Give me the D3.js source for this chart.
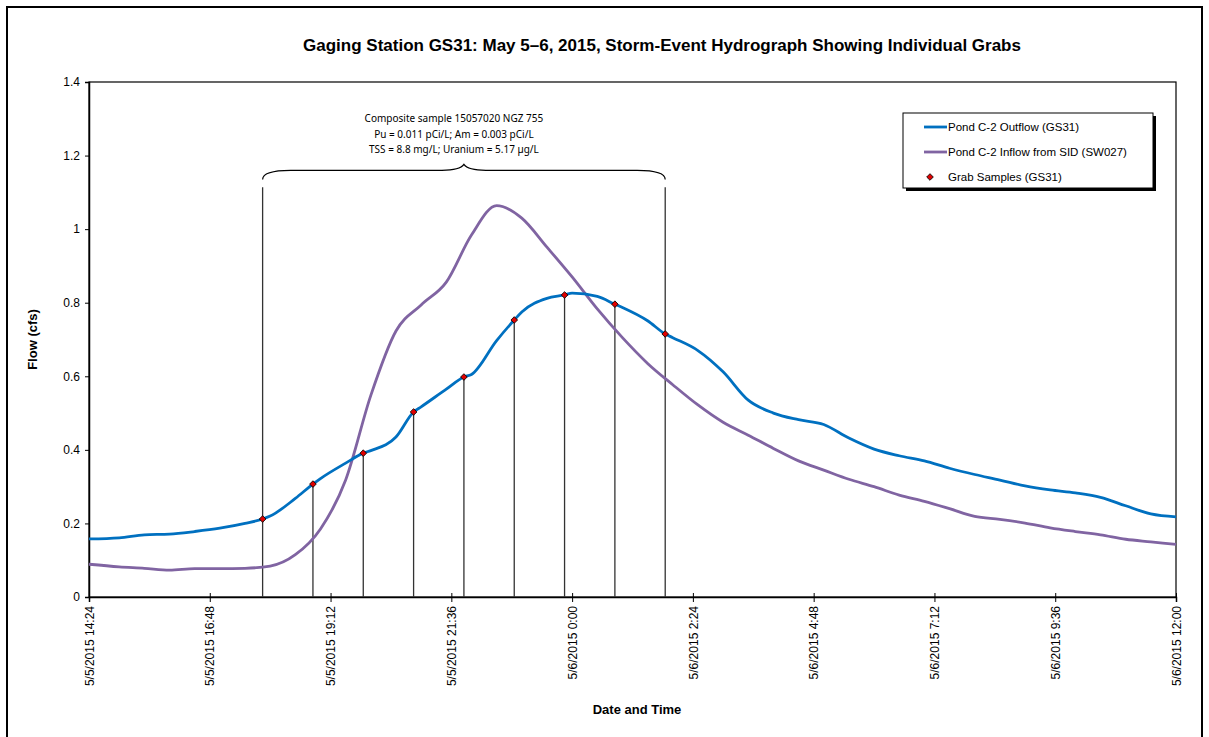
<!DOCTYPE html>
<html>
<head>
<meta charset="utf-8">
<script src="https://cdn.jsdelivr.net/npm/d3@7"></script>
<style>
  body { margin: 0; background: #fff; }
  text { font-family: "Liberation Sans", Arial, sans-serif; }
</style>
</head>
<body>
<script>
// ---- data ----
const times = [
  "5/5/2015 14:24", "5/5/2015 15:00", "5/5/2015 15:30", "5/5/2015 16:00", "5/5/2015 16:30",
  "5/5/2015 17:00", "5/5/2015 17:30", "5/5/2015 18:00", "5/5/2015 18:30", "5/5/2015 19:00",
  "5/5/2015 19:30", "5/5/2015 20:00", "5/5/2015 20:30", "5/5/2015 21:00", "5/5/2015 21:30",
  "5/5/2015 22:00", "5/5/2015 22:30", "5/5/2015 23:00", "5/5/2015 23:30", "5/6/2015 0:00",
  "5/6/2015 0:30", "5/6/2015 1:00", "5/6/2015 1:30", "5/6/2015 2:00", "5/6/2015 2:30",
  "5/6/2015 3:00", "5/6/2015 3:30", "5/6/2015 4:00", "5/6/2015 4:30", "5/6/2015 5:00",
  "5/6/2015 5:30", "5/6/2015 6:00", "5/6/2015 6:30", "5/6/2015 7:00", "5/6/2015 7:30",
  "5/6/2015 8:00", "5/6/2015 8:30", "5/6/2015 9:00", "5/6/2015 9:30", "5/6/2015 10:00",
  "5/6/2015 10:30", "5/6/2015 11:00", "5/6/2015 11:30", "5/6/2015 12:00"
];

// Pond C-2 Outflow (GS31), cfs
const outflow = [
  0.158, 0.161, 0.169, 0.171, 0.178,
  0.187, 0.200, 0.220, 0.268, 0.322,
  0.364, 0.398, 0.435, 0.517, 0.565,
  0.605, 0.697, 0.775, 0.812, 0.826,
  0.817, 0.787, 0.751, 0.705, 0.670,
  0.612, 0.535, 0.500, 0.482, 0.469,
  0.432, 0.402, 0.384, 0.370, 0.350,
  0.333, 0.318, 0.302, 0.291, 0.283,
  0.271, 0.248, 0.226, 0.218
];

// Pond C-2 Inflow from SID (SW027), cfs
const inflow = [
  0.089, 0.082, 0.078, 0.073, 0.077,
  0.077, 0.078, 0.084, 0.115, 0.185,
  0.318, 0.548, 0.723, 0.794, 0.856,
  0.984, 1.064, 1.030, 0.951, 0.870,
  0.783, 0.705, 0.635, 0.577, 0.522,
  0.475, 0.440, 0.404, 0.370, 0.345,
  0.320, 0.300, 0.277, 0.260, 0.240,
  0.219, 0.211, 0.201, 0.188, 0.178,
  0.169, 0.157, 0.150, 0.143
];

// Grab samples (GS31)
const grabTimes = [
  "5/5/2015 17:51", "5/5/2015 18:51", "5/5/2015 19:51", "5/5/2015 20:51", "5/5/2015 21:51",
  "5/5/2015 22:51", "5/5/2015 23:51", "5/6/2015 0:51", "5/6/2015 1:51"
];
const grabFlow = [0.212, 0.307, 0.391, 0.503, 0.598, 0.753, 0.821, 0.796, 0.715];

const xTickLabels = [
  "5/5/2015 14:24", "5/5/2015 16:48", "5/5/2015 19:12", "5/5/2015 21:36", "5/6/2015 0:00",
  "5/6/2015 2:24", "5/6/2015 4:48", "5/6/2015 7:12", "5/6/2015 9:36", "5/6/2015 12:00"
];
const yTicks = [0, 0.2, 0.4, 0.6, 0.8, 1, 1.2, 1.4];

const seriesNames = ["Pond C-2 Outflow (GS31)", "Pond C-2 Inflow from SID (SW027)", "Grab Samples (GS31)"];
const noteLines = [
  "Composite sample 15057020 NGZ 755",
  "Pu = 0.011 pCi/L; Am = 0.003 pCi/L",
  "TSS = 8.8 mg/L; Uranium = 5.17 \u00b5g/L"
];

// ---- drawing ----
const W = 1209, H = 737;
const blue = "#0070C0", purple = "#8064A2";
const parse = d3.timeParse("%m/%d/%Y %H:%M");
const fmt = d3.timeFormat("%-m/%-d/%Y %-H:%M");

const svg = d3.select("body").append("svg")
  .attr("width", W)
  .attr("height", H);

// outer frame
svg.append("rect")
  .attr("x", 7).attr("y", 7)
  .attr("width", 1195).attr("height", 745)
  .attr("fill", "none").attr("stroke", "#000").attr("stroke-width", 2);

const xTicks = xTickLabels.map(parse);
const x = d3.scaleTime()
  .domain([xTicks[0], xTicks[xTicks.length - 1]])
  .range([89, 1176]);
const y = d3.scaleLinear()
  .domain([0, 1.4])
  .range([597, 82]);

// plot area border
svg.append("rect")
  .attr("x", x.range()[0]).attr("y", y.range()[1])
  .attr("width", x.range()[1] - x.range()[0])
  .attr("height", y.range()[0] - y.range()[1])
  .attr("fill", "none").attr("stroke", "#000").attr("stroke-width", 1.2);

// title
svg.append("text")
  .attr("x", 662).attr("y", 51)
  .attr("text-anchor", "middle")
  .style("font-size", "17px").style("font-weight", "bold")
  .text("Gaging Station GS31: May 5\u20136, 2015, Storm-Event Hydrograph Showing Individual Grabs");

// y axis
const yAxis = svg.append("g")
  .attr("transform", `translate(${x.range()[0]},0)`)
  .call(d3.axisLeft(y).tickValues(yTicks).tickSize(4).tickPadding(5).tickFormat(d => d));
yAxis.select(".domain").attr("stroke-width", 1.5);
yAxis.selectAll("text").style("font-size", "12px").style("font-family", "Liberation Sans, Arial, sans-serif");

svg.append("text")
  .attr("transform", `translate(37,${(y.range()[0] + y.range()[1]) / 2}) rotate(-90)`)
  .attr("text-anchor", "middle")
  .style("font-size", "13px").style("font-weight", "bold")
  .text("Flow (cfs)");

// x axis
const xAxis = svg.append("g")
  .attr("transform", `translate(0,${y.range()[0]})`)
  .call(d3.axisBottom(x).tickValues(xTicks).tickSize(5).tickFormat(fmt));
xAxis.select(".domain").attr("stroke-width", 1.5);
xAxis.selectAll(".tick line").attr("y1", -4);
xAxis.selectAll("text")
  .style("font-size", "12px").style("font-family", "Liberation Sans, Arial, sans-serif")
  .attr("text-anchor", "end")
  .attr("transform", "rotate(-90)")
  .attr("x", -9).attr("y", 0).attr("dy", "0.35em");

svg.append("text")
  .attr("x", 637).attr("y", 714)
  .attr("text-anchor", "middle")
  .style("font-size", "13px").style("font-weight", "bold")
  .text("Date and Time");

// grab sample drop lines
const grabs = grabTimes.map((t, i) => ({ t: parse(t), v: grabFlow[i] }));
const topV = 1.114; // first and last lines run up to the bracket
svg.selectAll(".drop")
  .data(grabs)
  .enter()
  .append("line")
    .attr("class", "drop")
    .attr("x1", d => x(d.t)).attr("x2", d => x(d.t))
    .attr("y1", (d, i) => (i === 0 || i === grabs.length - 1) ? y(topV) : y(d.v))
    .attr("y2", y(0))
    .attr("stroke", "#333").attr("stroke-width", 1.3);

// bracket over the composite period
const bx0 = x(grabs[0].t), bx1 = x(grabs[grabs.length - 1].t);
const bm = (bx0 + bx1) / 2;
const yEnd = y(1.135), yBar = y(1.16), yTip = y(1.176);
svg.append("path")
  .attr("d", `M${bx0},${yEnd} Q${bx0},${yBar} ${bx0 + 28},${yBar} L${bm - 22},${yBar}` +
             ` Q${bm - 4},${yBar} ${bm},${yTip} Q${bm + 4},${yBar} ${bm + 22},${yBar}` +
             ` L${bx1 - 28},${yBar} Q${bx1},${yBar} ${bx1},${yEnd}`)
  .attr("fill", "none").attr("stroke", "#000").attr("stroke-width", 1.2);

svg.append("g").selectAll("text")
  .data(noteLines)
  .enter()
  .append("text")
    .attr("x", bm - 10)
    .attr("y", (d, i) => 122 + i * 15.5)
    .attr("text-anchor", "middle")
    .style("font-family", "'Noto Sans', sans-serif")
    .style("font-size", "10px")
    .text(d => d);

// series lines
const line = d3.line()
  .x(d => x(d.t))
  .y(d => y(d.v))
  .curve(d3.curveMonotoneX);

const inflowData = times.map((t, i) => ({ t: parse(t), v: inflow[i] }));
const outflowData = times.map((t, i) => ({ t: parse(t), v: outflow[i] }))
  .concat(grabs)
  .sort((a, b) => a.t - b.t);

svg.append("path")
  .datum(inflowData)
  .attr("d", line)
  .attr("fill", "none").attr("stroke", purple).attr("stroke-width", 2.8);

svg.append("path")
  .datum(outflowData)
  .attr("d", line)
  .attr("fill", "none").attr("stroke", blue).attr("stroke-width", 2.8);

// grab markers (small red diamonds)
const marker = d3.symbol().type(d3.symbolSquare).size(22);
svg.selectAll(".grab")
  .data(grabs)
  .enter()
  .append("path")
    .attr("class", "grab")
    .attr("d", marker)
    .attr("transform", d => `translate(${x(d.t)},${y(d.v)}) rotate(45)`)
    .attr("fill", "#e00000").attr("stroke", "#000").attr("stroke-width", 0.8);

// legend
const lg = svg.append("g").attr("transform", "translate(903,113)");
lg.append("rect").attr("x", 3).attr("y", 3).attr("width", 250).attr("height", 75).attr("fill", "#000");
lg.append("rect").attr("width", 250).attr("height", 75)
  .attr("fill", "#fff").attr("stroke", "#000").attr("stroke-width", 1);
[blue, purple].forEach((c, i) => {
  lg.append("line")
    .attr("x1", 21).attr("x2", 44)
    .attr("y1", 14 + i * 25).attr("y2", 14 + i * 25)
    .attr("stroke", c).attr("stroke-width", 2.8);
});
lg.append("path")
  .attr("d", marker)
  .attr("transform", "translate(27,64) rotate(45)")
  .attr("fill", "#e00000").attr("stroke", "#000").attr("stroke-width", 0.8);
lg.selectAll(".lt")
  .data(seriesNames)
  .enter()
  .append("text")
    .attr("x", 45)
    .attr("y", (d, i) => 18 + i * 25)
    .style("font-size", "11.5px")
    .text(d => d);
</script>
</body>
</html>
